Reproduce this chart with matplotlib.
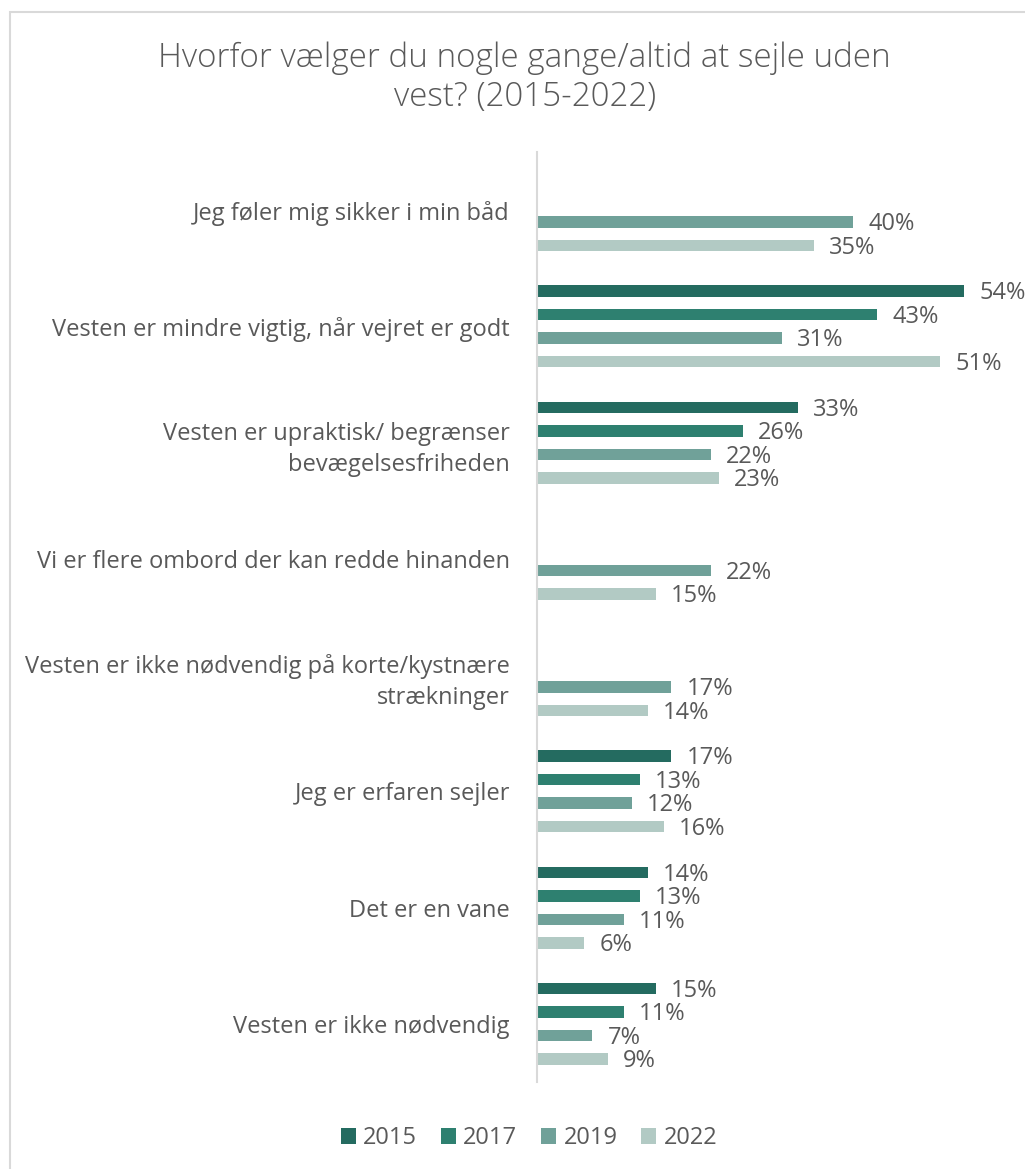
import numpy as np
import matplotlib.pyplot as plt
from matplotlib.patches import Rectangle

# data
categories = [
    "Jeg føler mig sikker i min båd",
    "Vesten er mindre vigtig, når vejret er godt",
    "Vesten er upraktisk/ begrænser\nbevægelsesfriheden",
    "Vi er flere ombord der kan redde hinanden",
    "Vesten er ikke nødvendig på korte/kystnære\nstrækninger",
    "Jeg er erfaren sejler",
    "Det er en vane",
    "Vesten er ikke nødvendig",
]
years = ["2015", "2017", "2019", "2022"]
v2015 = [np.nan, 54, 33, np.nan, np.nan, 17, 14, 15]
v2017 = [np.nan, 43, 26, np.nan, np.nan, 13, 13, 11]
v2019 = [40, 31, 22, 22, 17, 12, 11, 7]
v2022 = [35, 51, 23, 15, 14, 16, 6, 9]
colors = ["#246B60", "#2E8070", "#70A199", "#B2CAC4"]

plt.rcParams["font.family"] = ["Open Sans", "DejaVu Sans"]
plt.rcParams["font.weight"] = "normal"
txt = "#595959"
fs = 17

fig = plt.figure(figsize=(10.25, 11.69), dpi=100)
# chart frame
fig.patches.append(Rectangle((9.5 / 1025, -0.1), 1.2, 1 - 11.5 / 1169 + 0.1,
                             transform=fig.transFigure, fill=False,
                             edgecolor="#D9D9D9", linewidth=1.5))

ax = fig.add_axes([537 / 1025, 1 - 1082 / 1169, 488 / 1025, 930 / 1169])

series = [v2015, v2017, v2019, v2022]
n = len(categories)
y = np.arange(n)
offs = [-0.303, -0.101, 0.101, 0.303]
for vals, yr, c, o in zip(series, years, colors, offs):
    vals = np.array(vals, dtype=float)
    ax.barh(y + o, vals, height=0.1, color=c, label=yr)
    for yi, v in zip(y, vals):
        if np.isnan(v):
            continue
        ax.text(v + 1.9, yi + o + 0.02, f"{v:.0f}%", va="center", ha="left",
                fontsize=fs, color=txt, clip_on=False)

ax.set_ylim(n - 0.5, -0.5)
ax.set_xlim(0, 488 / 7.91)
ax.set_yticks(y)
ax.set_yticklabels(categories, fontsize=fs, color=txt, ha="right",
                   multialignment="right", linespacing=1.4)
ax.tick_params(axis="y", length=0, pad=19.5)
ax.set_xticks([])
for s in ["top", "right", "bottom"]:
    ax.spines[s].set_visible(False)
ax.spines["left"].set_color("#D9D9D9")
ax.spines["left"].set_linewidth(1.5)

fig.text(0.512, 1 - 78 / 1169, "Hvorfor vælger du nogle gange/altid at sejle uden\nvest? (2015-2022)",
         ha="center", va="center", fontsize=23.9, color=txt, linespacing=1.22,
         fontweight="light")

fig.legend(loc="center", bbox_to_anchor=(0.516, 1 - 1138 / 1169), ncol=4,
           frameon=False, fontsize=fs, labelcolor=txt, handlelength=0.65,
           handleheight=0.65, handletextpad=0.3, columnspacing=1.0)

fig.savefig("out.png", dpi=100)
